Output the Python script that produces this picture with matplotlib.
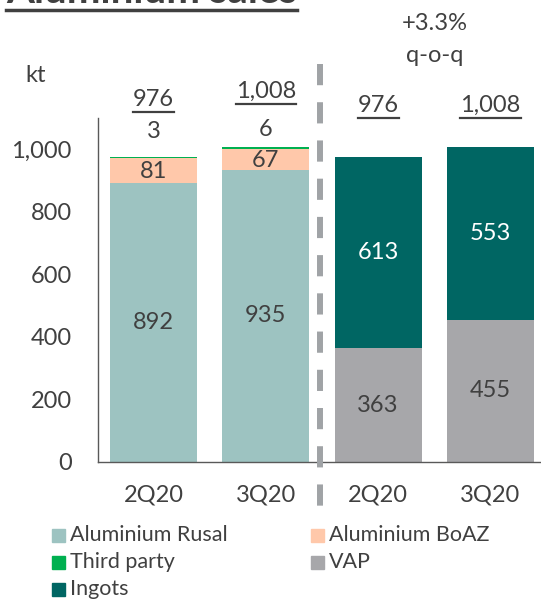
import matplotlib
matplotlib.use("Agg")
import matplotlib.pyplot as plt
from matplotlib.lines import Line2D
from matplotlib.patches import Rectangle

plt.rcParams['font.family'] = ['Lato', 'DejaVu Sans']

categories = ["2Q20", "3Q20", "2Q20", "3Q20"]
rusal = [892, 935]
boaz = [81, 67]
third_party = [3, 6]
vap = [363, 455]
ingots = [613, 553]
yticks = [0, 200, 400, 600, 800, 1000]
change_label = "+3.3%\nq-o-q"

C_RUSAL = "#9DC3C1"
C_BOAZ = "#FFC8AA"
C_THIRD = "#00B050"
C_VAP = "#A7A7AA"
C_INGOT = "#006663"
TXT = "#404040"
FS = 17

W, H = 541, 599
fig = plt.figure(figsize=(W/100, H/100), dpi=100)
ax = fig.add_axes([98/W, 1-462/H, 1-98/W, (462-118)/H])

xl = [0, 1]
xr = [2, 3]
bw = 0.775
ax.bar(xl, rusal, bw, color=C_RUSAL)
ax.bar(xl, boaz, bw, bottom=rusal, color=C_BOAZ)
bot3 = [a+b for a, b in zip(rusal, boaz)]
ax.bar(xl, third_party, bw, bottom=bot3, color=C_THIRD)
ax.bar(xr, vap, bw, color=C_VAP)
ax.bar(xr, ingots, bw, bottom=vap, color=C_INGOT)

ax.set_xlim(-0.494, 3.45)
ax.set_ylim(0, 1100)
ax.set_yticks(yticks)
ax.set_yticklabels([f"{v:,}" for v in yticks])
ax.set_xticks(range(4))
ax.set_xticklabels(categories)
ax.tick_params(axis='y', length=0, pad=19, labelsize=FS, labelcolor=TXT)
ax.tick_params(axis='x', length=0, pad=16, labelsize=FS, labelcolor=TXT)
for s in ['top', 'right']:
    ax.spines[s].set_visible(False)
ax.spines['left'].set_color('#595959')
ax.spines['bottom'].set_color('#595959')
ax.spines['left'].set_linewidth(1.0)
ax.spines['bottom'].set_linewidth(1.0)

# segment labels
for i, x in enumerate(xl):
    ax.text(x, rusal[i]/2, f"{rusal[i]:,}", ha='center', va='center', fontsize=FS, color=TXT)
    ax.text(x, rusal[i]+boaz[i]/2 - 5, f"{boaz[i]:,}", ha='center', va='center', fontsize=FS, color=TXT)
for i, x in enumerate(xr):
    ax.text(x, vap[i]/2, f"{vap[i]:,}", ha='center', va='center', fontsize=FS, color=TXT)
    ax.text(x, vap[i]+ingots[i]/2, f"{ingots[i]:,}", ha='center', va='center', fontsize=FS, color='white')

# third party labels above
tp_y = [1057, 1064]
for i, x in enumerate(xl):
    ax.text(x, tp_y[i], f"{third_party[i]:,}", ha='center', va='center', fontsize=FS, color=TXT, clip_on=False)

# totals (underlined)
tot_l = [rusal[i]+boaz[i]+third_party[i] for i in range(2)]
tot_r = [vap[i]+ingots[i] for i in range(2)]
tot_texts = []
for x, t, y in zip(xl, tot_l, [1160, 1185]):
    tot_texts.append(ax.text(x, y, f"{t:,}", ha='center', va='center', fontsize=FS, color=TXT, clip_on=False))
for x, t, y in zip(xr, tot_r, [1140, 1140]):
    tot_texts.append(ax.text(x, y, f"{t:,}", ha='center', va='center', fontsize=FS, color=TXT, clip_on=False))

ax.text(2.5, 1350, change_label, ha='center', va='center', fontsize=FS, color=TXT,
        linespacing=1.65, clip_on=False)

# kt label
fig.text(36/W, 1-76/H, "kt", ha='center', va='center', fontsize=FS, color=TXT)

# dashed separator
fig.add_artist(Line2D([320/W, 320/W], [1-64/H, 1-508/H], color="#A0A3A6", lw=4.3,
                      linestyle=(0, (3.55, 2.85)), solid_capstyle='butt'))

# title (partly cut, as in the reference)
title = fig.text(6/W, 1-3/H, "Aluminium sales", ha='left', va='baseline', fontsize=29,
                 fontweight='bold', color=TXT)

# legend
leg_items = [("Aluminium Rusal", C_RUSAL, 52, 535), ("Aluminium BoAZ", C_BOAZ, 311, 535),
             ("Third party", C_THIRD, 52, 562), ("VAP", C_VAP, 311, 562),
             ("Ingots", C_INGOT, 52, 589)]
for lab, col, px, py in leg_items:
    fig.add_artist(Rectangle((px/W, 1-(py+6.5)/H), 13/W, 13/H, color=col, transform=fig.transFigure))
    fig.text((px+18)/W, 1-py/H, lab, ha='left', va='center', fontsize=15.5, color=TXT)

# underlines
fig.canvas.draw()
r = fig.canvas.get_renderer()
for t in tot_texts:
    bb = t.get_window_extent(r)
    y = bb.y0 - 2
    fig.add_artist(Line2D([bb.x0/W, bb.x1/W], [y/H, y/H], color=TXT, lw=1.6,
                          transform=fig.transFigure))
bb = title.get_window_extent(r)
fig.add_artist(Line2D([bb.x0/W, bb.x1/W], [1-10/H, 1-10/H], color=TXT, lw=2.5,
                      transform=fig.transFigure))

fig.savefig("out.png", dpi=100, facecolor='white')
